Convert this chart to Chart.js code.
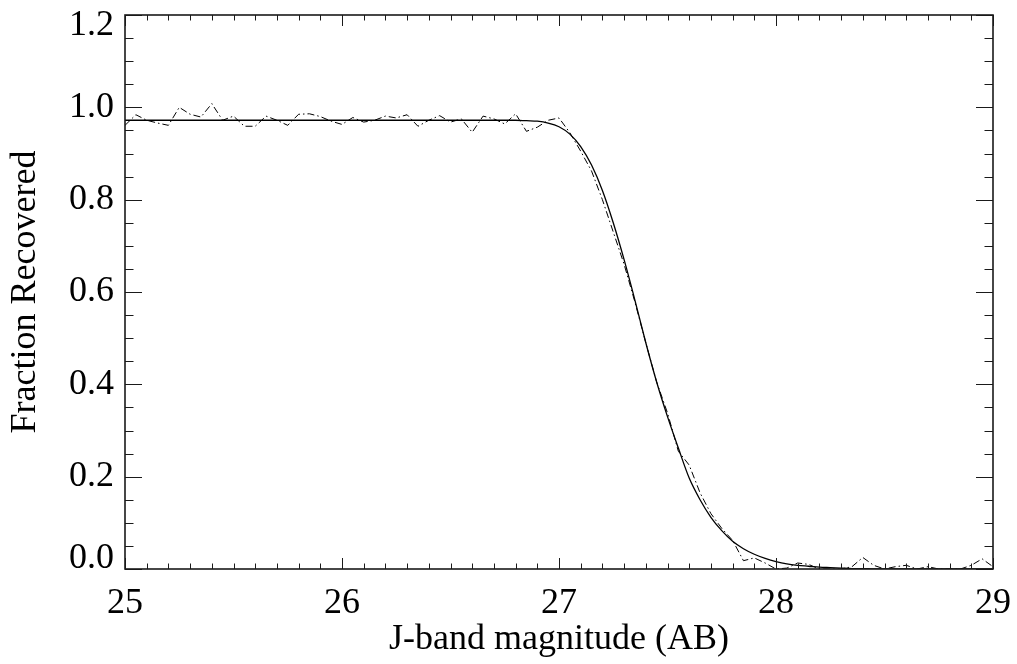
<!DOCTYPE html>
<html><head><meta charset="utf-8">
<script src="https://cdn.jsdelivr.net/npm/chart.js@4"></script>
<style>html,body{margin:0;padding:0;background:#fff}#wrap{width:1017px;height:664px}</style>
</head><body><div id="wrap"><canvas id="c" width="1017" height="664"></canvas></div>
<script>
const magnitudes = [
 25.00,25.05,25.10,25.15,25.20,25.25,25.30,25.35,25.40,25.45,
 25.50,25.55,25.60,25.65,25.70,25.75,25.80,25.85,25.90,25.95,
 26.00,26.05,26.10,26.15,26.20,26.25,26.30,26.35,26.40,26.45,
 26.50,26.55,26.60,26.65,26.70,26.75,26.80,26.85,26.90,26.95,
 27.00,27.05,27.10,27.15,27.20,27.25,27.30,27.35,27.40,27.45,
 27.50,27.55,27.60,27.65,27.70,27.75,27.80,27.85,27.90,27.95,
 28.00,28.05,28.10,28.15,28.20,28.25,28.30,28.35,28.40,28.45,
 28.50,28.55,28.60,28.65,28.70,28.75,28.80,28.85,28.90,28.95,
 29.00];
const recoveredFraction = [
 0.961,0.984,0.972,0.966,0.961,1.000,0.985,0.979,1.008,0.972,
 0.981,0.959,0.959,0.981,0.972,0.961,0.985,0.986,0.980,0.970,
 0.963,0.978,0.968,0.972,0.981,0.977,0.984,0.959,0.972,0.982,
 0.968,0.975,0.946,0.981,0.975,0.964,0.986,0.948,0.957,0.972,
 0.977,0.945,0.905,0.862,0.800,0.730,0.660,0.578,0.490,0.405,
 0.338,0.255,0.225,0.165,0.120,0.088,0.062,0.018,0.024,0.013,
 0.000,0.002,0.013,0.010,0.000,0.000,0.000,0.005,0.025,0.008,
 0.000,0.005,0.008,0.000,0.005,0.000,0.000,0.000,0.008,0.022,
 0.005];
const fitFraction = [
 0.972,0.972,0.972,0.972,0.972,0.972,0.972,0.972,0.972,0.972,
 0.972,0.972,0.972,0.972,0.972,0.972,0.972,0.972,0.972,0.972,
 0.972,0.972,0.972,0.972,0.972,0.972,0.972,0.972,0.972,0.972,
 0.972,0.972,0.972,0.972,0.972,0.972,0.972,0.971,0.970,0.966,
 0.958,0.942,0.915,0.875,0.820,0.750,0.670,0.582,0.490,0.405,
 0.330,0.262,0.197,0.150,0.112,0.083,0.060,0.044,0.032,0.023,
 0.016,0.011,0.008,0.006,0.004,0.003,0.002,0.001,0.001,0.000,
 0.000,0.000,0.000,0.000,0.000,0.000,0.000,0.000,0.000,0.000,
 0.000];
const xTickLabels = ['25','26','27','28','29'];
const yTickLabels = ['0.0','0.2','0.4','0.6','0.8','1.0','1.2'];
const xAxisTitle = 'J-band magnitude (AB)';
const yAxisTitle = 'Fraction Recovered';

const FONT = 'Liberation Serif, Times New Roman, serif';

const framePlugin = {
  id: 'idlFrame',
  afterDatasetsDraw(chart) {
    const {ctx, chartArea: a, scales: {x, y}} = chart;
    ctx.save();
    ctx.strokeStyle = '#1a1a1a';
    ctx.lineWidth = 1;
    ctx.beginPath();
    for (let i = 0; i <= 40; i++) {
      const v = x.min + i * 0.1;
      const px = Math.round(x.getPixelForValue(v)) + 0.5;
      const len = (i % 10 === 0) ? 11 : 5.5;
      ctx.moveTo(px, a.bottom); ctx.lineTo(px, a.bottom - len);
      ctx.moveTo(px, a.top); ctx.lineTo(px, a.top + len);
    }
    for (let i = 0; i <= 24; i++) {
      const v = y.min + i * 0.05;
      const py = Math.round(y.getPixelForValue(v)) + 0.5;
      const len = (i % 4 === 0) ? 17 : 8.5;
      ctx.moveTo(a.left, py); ctx.lineTo(a.left + len, py);
      ctx.moveTo(a.right, py); ctx.lineTo(a.right - len, py);
    }
    ctx.stroke();
    ctx.lineWidth = 1.6;
    ctx.strokeRect(a.left, a.top, a.right - a.left, a.bottom - a.top);
    ctx.restore();
  }
};

function noPad(s) { s.paddingTop = 0; s.paddingBottom = 0; s.paddingLeft = 0; s.paddingRight = 0; }

const ctx = document.getElementById('c').getContext('2d');
new Chart(ctx, {
  type: 'line',
  data: {
    datasets: [
      {
        label: 'fit',
        data: magnitudes.map((m, i) => ({x: m, y: fitFraction[i]})),
        borderColor: '#000', borderWidth: 1.3, pointRadius: 0,
        cubicInterpolationMode: 'monotone', fill: false
      },
      {
        label: 'recovered',
        data: magnitudes.map((m, i) => ({x: m, y: recoveredFraction[i]})),
        borderColor: '#000', borderWidth: 1, pointRadius: 0,
        borderDash: [7, 3, 1.5, 3], tension: 0, fill: false
      }
    ]
  },
  options: {
    responsive: false,
    animation: false,
    events: [],
    layout: {padding: {left: 0, right: 24, top: 15, bottom: 0}},
    plugins: {legend: {display: false}, tooltip: {enabled: false}},
    scales: {
      x: {
        type: 'linear', min: 25, max: 29,
        afterFit(s) { s.height = 95; noPad(s); },
        grid: {display: false, drawTicks: false},
        border: {display: false},
        ticks: {
          stepSize: 1, padding: 13, color: '#000', maxRotation: 0,
          font: {family: FONT, size: 36, lineHeight: 1.2},
          callback: (v) => {
            const idx = Math.round(v - 25);
            return xTickLabels[idx] !== undefined ? xTickLabels[idx] : '';
          }
        },
        title: {
          display: true, text: xAxisTitle, color: '#000',
          font: {family: FONT, size: 36, lineHeight: 1.2},
          padding: {top: 0, bottom: 3}
        }
      },
      y: {
        type: 'linear', min: 0, max: 1.2,
        afterFit(s) { s.width = 125; noPad(s); },
        grid: {display: false, drawTicks: false},
        border: {display: false},
        ticks: {
          stepSize: 0.2, padding: 11, color: '#000',
          font: {family: FONT, size: 36, lineHeight: 0.56},
          callback: (v) => {
            const idx = Math.round(v / 0.2);
            const t = yTickLabels[idx];
            if (t === undefined) return '';
            if (idx === 0) return [t, ''];
            if (idx === yTickLabels.length - 1) return ['', t];
            return t;
          }
        },
        title: {
          display: true, text: yAxisTitle, color: '#000',
          font: {family: FONT, size: 36, lineHeight: 1.2},
          padding: {top: 4, bottom: 0}
        }
      }
    }
  },
  plugins: [framePlugin]
});
</script>
</body></html>
